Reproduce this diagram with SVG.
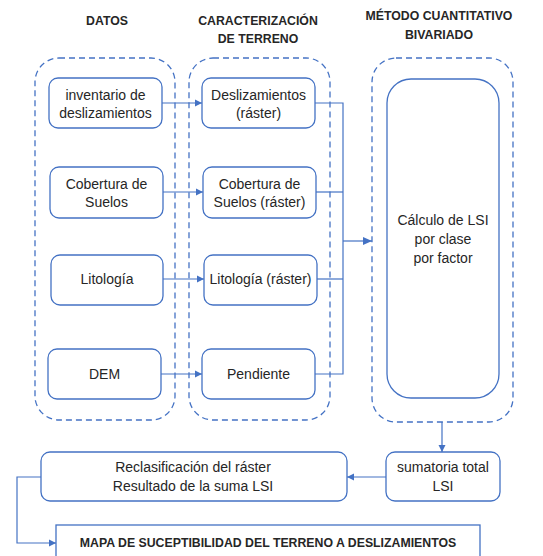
<svg xmlns="http://www.w3.org/2000/svg" width="543" height="556" viewBox="0 0 543 556">
<style>
.cont{fill:none;stroke:#4472C4;stroke-width:1.3;stroke-dasharray:6 4}
.box{fill:#fff;stroke:#4472C4;stroke-width:1.3}
.ln{fill:none;stroke:#4472C4;stroke-width:1.2}
.t{font-family:"Liberation Sans",Arial,sans-serif;font-size:14px;fill:#262626;text-anchor:middle}
.h{font-family:"Liberation Sans",Arial,sans-serif;font-size:12.3px;font-weight:bold;fill:#262626;text-anchor:middle}
</style>
<defs>
<marker id="ar" markerWidth="8" markerHeight="8" refX="7" refY="4" orient="auto" markerUnits="userSpaceOnUse"><path d="M0,0.5 L7,4 L0,7.5 Z" fill="#4472C4"/></marker>
<marker id="arb" markerWidth="10" markerHeight="10" refX="9" refY="5" orient="auto" markerUnits="userSpaceOnUse"><path d="M0,1 L9,5 L0,9 Z" fill="#4472C4"/></marker>
</defs>
<rect width="543" height="556" fill="#fff"/>
<g id="headers">
<text class="h" x="107" y="25">DATOS</text>
<text class="h" x="258" y="25">CARACTERIZACIÓN</text>
<text class="h" x="258" y="43">DE TERRENO</text>
<text class="h" x="439" y="20">MÉTODO CUANTITATIVO</text>
<text class="h" x="439" y="39">BIVARIADO</text>
</g>
<g id="containers">
<rect id="c-datos" class="cont" x="35" y="58" width="140" height="362" rx="24"/>
<rect id="c-carac" class="cont" x="189" y="58" width="141" height="362" rx="24"/>
<rect id="c-metodo" class="cont" x="372" y="58" width="141" height="364" rx="24"/>
</g>
<g id="connectors">
<line class="ln" x1="162" y1="103" x2="202" y2="103" marker-end="url(#ar)"/>
<line class="ln" x1="163" y1="192" x2="203" y2="192" marker-end="url(#ar)"/>
<line class="ln" x1="163" y1="279" x2="204" y2="279" marker-end="url(#ar)"/>
<line class="ln" x1="161" y1="374" x2="202" y2="374" marker-end="url(#ar)"/>
<polyline class="ln" points="315,103 343,103 343,374 315,374"/>
<line class="ln" x1="316" y1="192" x2="343" y2="192"/>
<line class="ln" x1="317" y1="279" x2="343" y2="279"/>
<line class="ln" x1="343" y1="241" x2="372" y2="241" stroke-width="2" marker-end="url(#arb)"/>
<line class="ln" x1="442" y1="422" x2="442" y2="452" marker-end="url(#ar)"/>
<line class="ln" x1="386" y1="477" x2="347" y2="477" marker-end="url(#ar)"/>
<polyline class="ln" points="41,477 17,477 17,543 56,543" marker-end="url(#ar)"/>
</g>
<g id="n-inventario"><rect class="box" x="49" y="78" width="113" height="50" rx="9"/><text class="t" x="105.5" y="100">inventario de</text><text class="t" x="105.5" y="118">deslizamientos</text></g>
<g id="n-cobertura"><rect class="box" x="50" y="167" width="113" height="51" rx="9"/><text class="t" x="106.5" y="189">Cobertura de</text><text class="t" x="106.5" y="207">Suelos</text></g>
<g id="n-litologia"><rect class="box" x="51" y="255" width="112" height="50" rx="9"/><text class="t" x="107" y="284">Litología</text></g>
<g id="n-dem"><rect class="box" x="48" y="349" width="113" height="50" rx="9"/><text class="t" x="104.5" y="379">DEM</text></g>
<g id="n-desl-raster"><rect class="box" x="202" y="78" width="113" height="50" rx="9"/><text class="t" x="258.5" y="100">Deslizamientos</text><text class="t" x="258.5" y="118">(ráster)</text></g>
<g id="n-cob-raster"><rect class="box" x="203" y="167" width="113" height="51" rx="9"/><text class="t" x="259.5" y="189">Cobertura de</text><text class="t" x="259.5" y="207">Suelos (ráster)</text></g>
<g id="n-lit-raster"><rect class="box" x="204" y="255" width="113" height="50" rx="9"/><text class="t" x="260.5" y="284">Litología (ráster)</text></g>
<g id="n-pendiente"><rect class="box" x="202" y="349" width="113" height="50" rx="9"/><text class="t" x="258.5" y="379">Pendiente</text></g>
<g id="n-calculo"><rect class="box" x="387" y="79" width="112" height="319" rx="24"/><text class="t" x="443" y="225">Cálculo de LSI</text><text class="t" x="443" y="244">por clase</text><text class="t" x="443" y="263">por factor</text></g>
<g id="n-sumatoria"><rect class="box" x="386" y="452" width="114" height="49" rx="9"/><text class="t" x="443" y="472">sumatoria total</text><text class="t" x="443" y="491">LSI</text></g>
<g id="n-reclas"><rect class="box" x="41" y="452" width="306" height="49" rx="9"/><text class="t" x="193" y="472">Reclasificación del ráster</text><text class="t" x="193" y="491">Resultado de la suma LSI</text></g>
<g id="n-mapa"><rect class="box" x="56" y="525" width="424" height="40"/><text class="h" x="268" y="547" font-size="12px">MAPA DE SUCEPTIBILIDAD DEL TERRENO A DESLIZAMIENTOS</text></g>
</svg>
